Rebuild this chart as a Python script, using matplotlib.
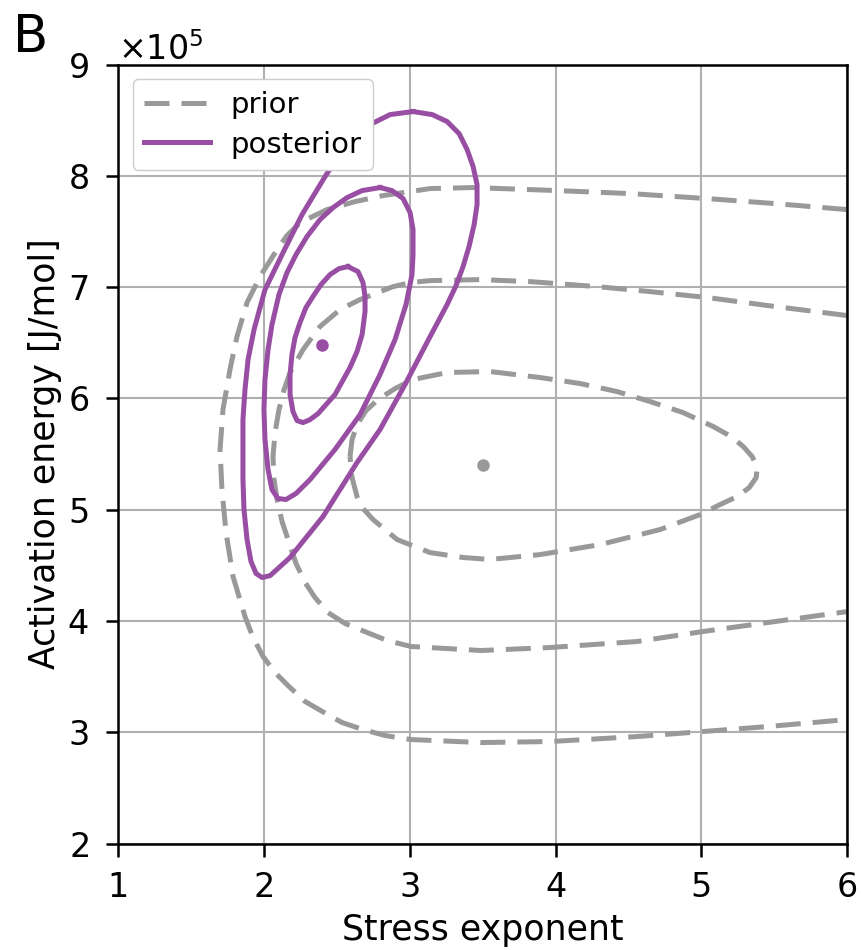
import numpy as np
import matplotlib
matplotlib.use("Agg")
import matplotlib.pyplot as plt

# contour lines (x: stress exponent, y: activation energy in 1e5 J/mol)
prior_inner_x = [2.591, 2.605, 2.639, 2.701, 2.783, 2.900, 3.023, 3.257, 3.551, 3.894, 4.169, 4.422,
                 4.649, 4.875, 5.081, 5.204, 5.287, 5.348, 5.383, 5.376, 5.328, 5.246, 5.129, 4.992,
                 4.717, 4.306, 3.894, 3.551, 3.366, 3.140, 2.914, 2.749, 2.674, 2.639, 2.605, 2.591]
prior_inner_y = [5.478, 5.631, 5.765, 5.891, 5.990, 6.089, 6.170, 6.233, 6.242, 6.188, 6.134, 6.062,
                 5.972, 5.873, 5.748, 5.658, 5.568, 5.478, 5.388, 5.289, 5.199, 5.119, 5.047, 4.957,
                 4.822, 4.687, 4.597, 4.553, 4.571, 4.615, 4.732, 4.912, 5.020, 5.119, 5.289, 5.478]

prior_mid_x = [6.0, 5.506, 5.040, 4.649, 4.285, 3.826, 3.483, 3.140, 3.003, 2.886, 2.660, 2.523,
               2.385, 2.269, 2.180, 2.139, 2.104, 2.077, 2.063, 2.070, 2.091, 2.125, 2.173, 2.221,
               2.283, 2.351, 2.440, 2.557, 2.708, 2.845, 3.010, 3.490, 3.963, 4.560, 5.012, 5.458, 6.0]
prior_mid_y = [6.745, 6.826, 6.907, 6.960, 7.005, 7.050, 7.068, 7.059, 7.041, 7.005, 6.889, 6.799,
               6.646, 6.439, 6.233, 6.080, 5.900, 5.694, 5.478, 5.271, 5.092, 4.894, 4.705, 4.517,
               4.346, 4.211, 4.076, 3.978, 3.897, 3.825, 3.771, 3.735, 3.762, 3.816, 3.906, 3.987, 4.085]

prior_outer_x = [6.0, 5.506, 5.040, 4.512, 4.011, 3.435, 3.140, 2.818, 2.626, 2.433, 2.248, 2.159,
                 2.091, 1.974, 1.885, 1.816, 1.768, 1.720, 1.700, 1.713, 1.741, 1.789, 1.871, 1.926,
                 1.995, 2.077, 2.173, 2.283, 2.413, 2.536, 2.680, 2.832, 3.010, 3.490, 3.963, 4.560,
                 5.012, 5.458, 6.0]
prior_outer_y = [7.697, 7.751, 7.796, 7.841, 7.868, 7.895, 7.886, 7.823, 7.769, 7.697, 7.580, 7.464,
                 7.338, 7.095, 6.862, 6.556, 6.260, 5.900, 5.541, 5.181, 4.795, 4.400, 4.040, 3.852,
                 3.681, 3.537, 3.411, 3.277, 3.178, 3.088, 3.025, 2.971, 2.935, 2.908, 2.917, 2.962,
                 3.007, 3.052, 3.115]

post_inner_x = [2.577, 2.646, 2.680, 2.694, 2.694, 2.674, 2.639, 2.591, 2.488, 2.372, 2.317, 2.269,
                2.228, 2.200, 2.180, 2.180, 2.193, 2.214, 2.248, 2.289, 2.337, 2.392, 2.454, 2.516,
                2.577]
post_inner_y = [7.185, 7.140, 7.041, 6.916, 6.781, 6.574, 6.421, 6.278, 6.035, 5.864, 5.810, 5.783,
                5.801, 5.882, 6.035, 6.215, 6.394, 6.547, 6.682, 6.817, 6.916, 7.023, 7.113, 7.167,
                7.185]

post_mid_x = [2.797, 2.879, 2.955, 3.003, 3.023, 3.023, 3.016, 2.975, 2.900, 2.797, 2.660, 2.488,
              2.317, 2.221, 2.152, 2.097, 2.056, 2.029, 2.008, 2.001, 2.008, 2.029, 2.056, 2.104,
              2.159, 2.221, 2.296, 2.385, 2.475, 2.571, 2.674, 2.797]
post_mid_y = [7.895, 7.868, 7.796, 7.670, 7.518, 7.293, 7.113, 6.844, 6.529, 6.215, 5.855, 5.541,
              5.271, 5.146, 5.092, 5.101, 5.181, 5.361, 5.631, 5.900, 6.170, 6.439, 6.664, 6.934,
              7.131, 7.293, 7.455, 7.607, 7.715, 7.805, 7.868, 7.895]

post_outer_x = [3.023, 3.154, 3.257, 3.339, 3.394, 3.435, 3.462, 3.462, 3.442, 3.407, 3.366, 3.318,
                3.257, 3.140, 2.968, 2.797, 2.639, 2.406, 2.180, 2.097, 2.043, 1.988, 1.947, 1.912,
                1.885, 1.864, 1.857, 1.857, 1.857, 1.871, 1.892, 1.933, 2.008, 2.132, 2.262, 2.420,
                2.571, 2.728, 2.866, 3.023]
post_outer_y = [8.578, 8.551, 8.488, 8.380, 8.236, 8.084, 7.922, 7.742, 7.562, 7.365, 7.185, 7.014,
                6.844, 6.556, 6.125, 5.721, 5.424, 4.939, 4.571, 4.472, 4.408, 4.391, 4.427, 4.535,
                4.732, 5.002, 5.271, 5.541, 5.810, 6.080, 6.350, 6.619, 6.978, 7.311, 7.652, 7.994,
                8.299, 8.461, 8.551, 8.578]

prior_mean = (3.5, 5.40)
post_mean = (2.4, 6.48)

scale = 1e5
grey = "#999999"
purple = "#984ea3"

plt.rcParams["font.size"] = 24
plt.rcParams["axes.linewidth"] = 1.8

fig = plt.figure(figsize=(8.61, 9.5), dpi=100)
ax = fig.add_axes([0.137, 0.112, 0.847, 0.820])

lw = 3.6
dash = (5, 2.4)
prior_lines = [(prior_inner_x, prior_inner_y), (prior_mid_x, prior_mid_y), (prior_outer_x, prior_outer_y)]
post_lines = [(post_inner_x, post_inner_y), (post_mid_x, post_mid_y), (post_outer_x, post_outer_y)]

for i, (xs, ys) in enumerate(prior_lines):
    ax.plot(xs, np.array(ys) * scale, color=grey, lw=lw, dashes=dash,
            dash_joinstyle="round", label="prior" if i == 0 else None, zorder=2)
for i, (xs, ys) in enumerate(post_lines):
    ax.plot(xs, np.array(ys) * scale, color=purple, lw=lw, solid_joinstyle="round",
            label="posterior" if i == 0 else None, zorder=3)

ax.plot(prior_mean[0], prior_mean[1] * scale, "o", color=grey, ms=8, zorder=3)
ax.plot(post_mean[0], post_mean[1] * scale, "o", color=purple, ms=8, zorder=4)

ax.set_xlim(1, 6)
ax.set_ylim(2e5, 9e5)
ax.set_xticks([1, 2, 3, 4, 5, 6])
ax.set_yticks(np.arange(2, 10) * scale)
ax.ticklabel_format(axis="y", style="sci", scilimits=(0, 0), useMathText=True)
ax.tick_params(length=9, width=1.8, labelsize=24)
ax.tick_params(axis="x", pad=11)
ax.tick_params(axis="y", pad=12)
ax.grid(True, color="#b0b0b0", lw=1.5)
ax.set_axisbelow(True)

ax.set_xlabel("Stress exponent", fontsize=25, labelpad=6)
ax.set_ylabel("Activation energy [J/mol]", fontsize=25)

ax.legend(loc="upper left", fontsize=21, handlelength=2.25, handletextpad=0.7,
          borderpad=0.4, labelspacing=0.4, framealpha=1.0)

fig.text(0.015, 0.986, "B", fontsize=37, va="top", ha="left")

fig.savefig("out.png", dpi=100)
